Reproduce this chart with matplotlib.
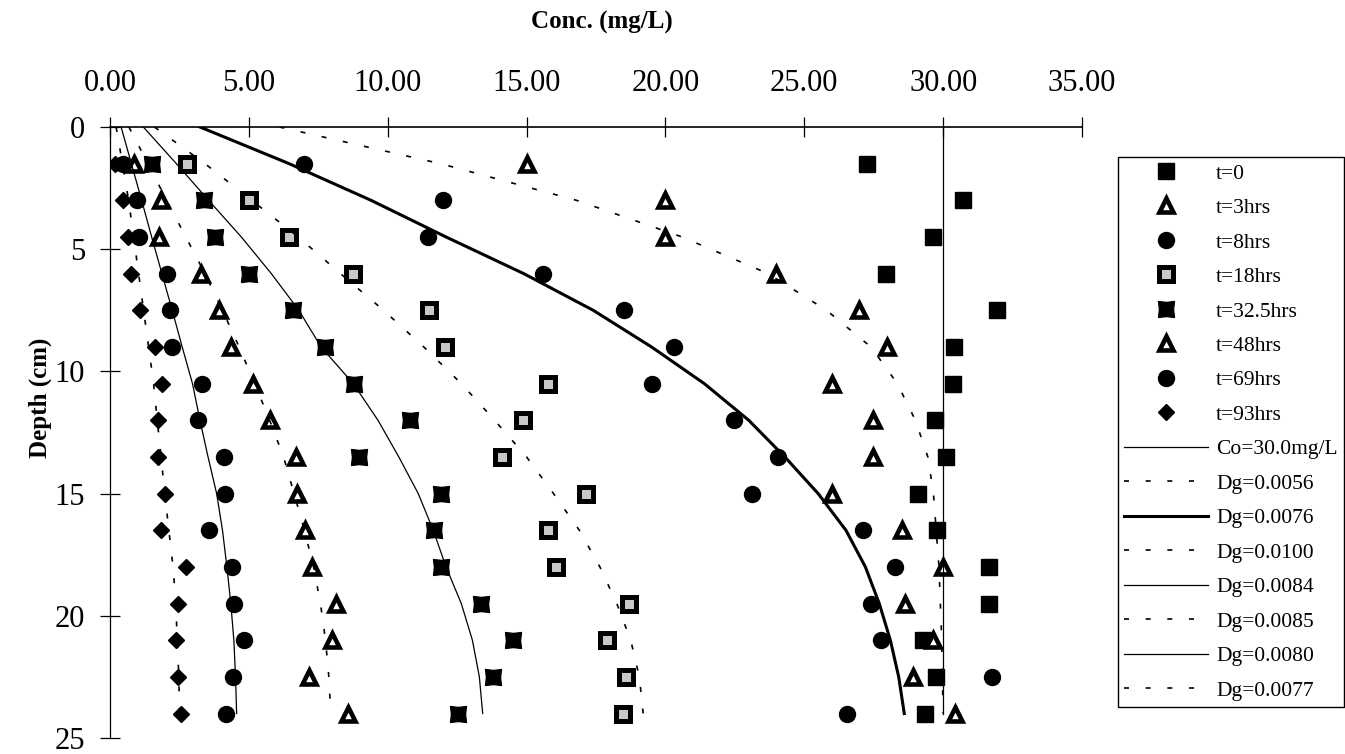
import matplotlib
matplotlib.use("Agg")
import matplotlib.pyplot as plt

plt.rcParams['font.family'] = ['Liberation Serif', 'DejaVu Serif']

# measured depths (cm)
depth = [1.5, 3, 4.5, 6, 7.5, 9, 10.5, 12, 13.5, 15, 16.5, 18, 19.5, 21, 22.5, 24]

# measured concentrations (mg/L)
t0 = [27.25, 30.73, 29.62, 27.93, 31.95, 30.39, 30.37, 29.71, 30.10, 29.08,
      29.79, 31.65, 31.66, 29.29, 29.74, 29.35]
t3 = [15.0, 20.0, 20.0, 23.98, 26.98, 27.99, 25.99, 27.49, 27.49, 25.99,
      28.51, 30.01, 28.63, 29.65, 28.9, 30.43]
t8 = [7.0, 11.98, 11.46, 15.6, 18.51, 20.31, 19.53, 22.48, 24.07, 23.13,
      27.1, 28.27, 27.39, 27.75, 31.75, 26.53]
t18 = [2.76, 5.0, 6.46, 8.76, 11.5, 12.06, 15.78, 14.88, 14.1, 17.14,
       15.78, 16.06, 18.7, 17.91, 18.58, 18.46]
t32 = [1.5, 3.38, 3.77, 5.02, 6.59, 7.74, 8.79, 10.8, 8.97, 11.92,
       11.68, 11.92, 13.36, 14.5, 13.8, 12.52]
t48 = [0.86, 1.82, 1.76, 3.29, 3.91, 4.34, 5.16, 5.76, 6.70, 6.72,
       7.02, 7.26, 8.14, 7.98, 7.18, 8.58]
t69 = [0.48, 0.99, 1.06, 2.04, 2.16, 2.24, 3.30, 3.18, 4.1, 4.14,
       3.57, 4.41, 4.47, 4.83, 4.42, 4.18]
t93 = [0.18, 0.46, 0.65, 0.76, 1.08, 1.62, 1.86, 1.72, 1.72, 1.98,
       1.84, 2.74, 2.44, 2.37, 2.44, 2.55]

# model curves
curve_depth = [0, 1.5, 3, 4.5, 6, 7.5, 9, 10.5, 12, 13.5, 15, 16.5, 18, 19.5, 21, 22.5, 24]
dg0056 = [6.1, 11.9, 16.8, 20.6, 23.7, 25.8, 27.4, 28.35, 29.0, 29.45, 29.65,
          29.75, 29.85, 29.9, 29.95, 29.97, 30.0]
dg0076 = [3.24, 6.45, 9.4, 12.1, 14.9, 17.4, 19.5, 21.4, 23.0, 24.3, 25.5,
          26.5, 27.2, 27.7, 28.1, 28.4, 28.6]
dg0100 = [1.6, 3.42, 5.1, 6.78, 8.3, 9.85, 11.3, 12.65, 13.85, 15.0, 15.97,
          16.9, 17.64, 18.25, 18.75, 19.06, 19.2]
dg0084 = [1.2, 2.39, 3.55, 4.73, 5.81, 6.8, 7.6, 8.76, 9.65, 10.4, 11.1,
          11.64, 12.1, 12.65, 13.05, 13.3, 13.42]
dg0085 = [0.68, 1.37, 2.04, 2.73, 3.42, 4.05, 4.65, 5.21, 5.75, 6.25, 6.63,
          7.0, 7.33, 7.58, 7.76, 7.88, 7.95]
dg0080 = [0.40, 0.77, 1.14, 1.5, 1.87, 2.24, 2.6, 2.97, 3.24, 3.53, 3.84,
          4.05, 4.21, 4.35, 4.46, 4.52, 4.56]
dg0077 = [0.22, 0.45, 0.67, 0.85, 1.03, 1.21, 1.39, 1.57, 1.7, 1.84, 1.97,
          2.12, 2.27, 2.37, 2.42, 2.48, 2.5]
co_conc = [30.0, 30.0]
co_depth = [0, 24]

x_ticks = [0, 5, 10, 15, 20, 25, 30, 35]
y_ticks = [0, 5, 10, 15, 20, 25]

# square with slightly pinched sides for t=32.5hrs
bowtie = [(-1, -1), (0, -0.88), (1, -1), (0.88, 0), (1, 1), (0, 0.88), (-1, 1), (-0.88, 0), (-1, -1)]

fig = plt.figure(figsize=(13.45, 7.54), dpi=100)
ax = fig.add_axes([110 / 1345, 1 - 738 / 754, 972 / 1345, 611 / 754])

k = dict(linestyle='none', color='black')
tri = dict(marker='^', markersize=9.5, mfc='white', mec='black', mew=3.3)
ax.plot(t0, depth, marker='s', markersize=11, label='t=0', **k)
ax.plot(t3, depth, label='t=3hrs', **tri, **k)
ax.plot(t8, depth, marker='o', markersize=11.5, label='t=8hrs', **k)
ax.plot(t18, depth, marker='s', markersize=9.5, mfc='#c8c8c8', mec='black', mew=3.6, label='t=18hrs', **k)
ax.plot(t32, depth, marker=bowtie, markersize=11.5, label='t=32.5hrs', **k)
ax.plot(t48, depth, label='t=48hrs', **tri, **k)
ax.plot(t69, depth, marker='o', markersize=11.5, label='t=69hrs', **k)
ax.plot(t93, depth, marker='D', markersize=8, label='t=93hrs', **k)

dash = (0, (3, 10))
ax.plot(co_conc, co_depth, color='black', lw=0.9, label='Co=30.0mg/L')
ax.plot(dg0056, curve_depth, color='black', lw=1.2, ls=dash, label='Dg=0.0056')
ax.plot(dg0076, curve_depth, color='black', lw=2.2, label='Dg=0.0076')
ax.plot(dg0100, curve_depth, color='black', lw=1.2, ls=dash, label='Dg=0.0100')
ax.plot(dg0084, curve_depth, color='black', lw=0.9, label='Dg=0.0084')
ax.plot(dg0085, curve_depth, color='black', lw=1.2, ls=dash, label='Dg=0.0085')
ax.plot(dg0080, curve_depth, color='black', lw=0.9, label='Dg=0.0080')
ax.plot(dg0077, curve_depth, color='black', lw=1.2, ls=dash, label='Dg=0.0077')

ax.set_xlim(0, 35)
ax.set_ylim(25, 0)
ax.xaxis.tick_top()
ax.set_xticks(x_ticks, ['%.2f' % v for v in x_ticks])
ax.set_yticks(y_ticks, [str(v) for v in y_ticks])
ax.tick_params(axis='x', direction='inout', length=13.7, width=0.9, pad=14, labelsize=22)
ax.tick_params(axis='y', direction='inout', length=13.7, width=0.9, pad=11, labelsize=22)
ax.spines['right'].set_visible(False)
ax.spines['bottom'].set_visible(False)
ax.spines['top'].set_linewidth(1.2)
ax.spines['left'].set_linewidth(0.9)
ax.patch.set_visible(False)

fig.text(602 / 1345, 1 - 22 / 754, 'Conc. (mg/L)', ha='center', va='center',
         fontsize=18, fontweight='bold')
fig.text(40 / 1345, 1 - 398 / 754, 'Depth (cm)', ha='center', va='center',
         rotation=90, fontsize=18, fontweight='bold')

leg = ax.legend(loc='upper left', bbox_to_anchor=(1118 / 1345, 1 - 157 / 754),
                bbox_transform=fig.transFigure, borderaxespad=0, fontsize=15.5,
                handlelength=3.86, handletextpad=0.4, labelspacing=0.67,
                borderpad=0.3, numpoints=1, fancybox=False, framealpha=1)
leg.get_frame().set_edgecolor('black')
leg.get_frame().set_linewidth(1.0)

fig.savefig('out.png', dpi=100)
